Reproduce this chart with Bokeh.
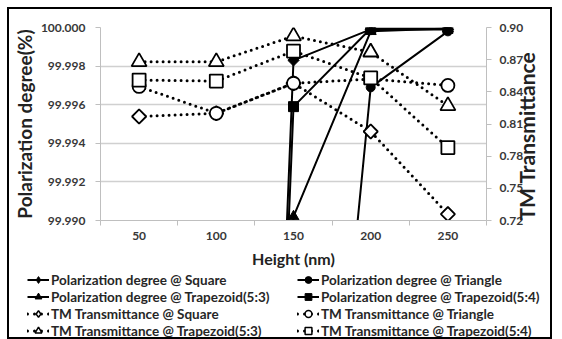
import math
from bokeh.plotting import figure
from bokeh.models import (Range1d, LinearAxis, FixedTicker, Legend, LegendItem,
                          NumeralTickFormatter)
from bokeh.embed import file_html
from bokeh.resources import INLINE

# ---------------- data ----------------
heights = [50, 100, 150, 200, 250]
height_labels = ["50", "100", "150", "200", "250"]

# Polarization degree (%) - left axis
pol_square = [99.60, 99.90, 99.9983, 99.9999, 99.9999]
pol_triangle = [99.40, 99.80, 99.956, 99.9969, 99.9998]
pol_trap53 = [99.50, 99.88, 99.9902, 99.9998, 99.99995]
pol_trap54 = [99.55, 99.90, 99.9959, 99.99995, 99.99995]

# TM Transmittance - right axis
tm_square = [0.817, 0.820, 0.848, 0.803, 0.726]
tm_triangle = [0.845, 0.820, 0.848, 0.852, 0.846]
tm_trap53 = [0.868, 0.868, 0.892, 0.877, 0.827]
tm_trap54 = [0.851, 0.850, 0.878, 0.853, 0.788]

left_ticks = [99.990, 99.992, 99.994, 99.996, 99.998, 100.000]
right_ticks = [0.72, 0.75, 0.78, 0.81, 0.84, 0.87, 0.90]
boundaries = [25, 75, 125, 175, 225, 275]

FONT = "Lato"
TICK_COLOR = "#383838"
GRID = "#d0d0d0"

p = figure(width=545, height=261, output_backend="svg", toolbar_location=None,
           x_range=Range1d(25, 275), y_range=Range1d(99.990, 100.000),
           min_border_left=83, min_border_right=57, min_border_top=18,
           min_border_bottom=45, background_fill_color="white",
           border_fill_color="white", margin=(7, 0, 0, 7),
           styles={"border": "2px solid black", "border-bottom": "none"})
p.outline_line_color = None
p.extra_y_ranges = {"tm": Range1d(0.72, 0.90)}

# grid
p.xgrid.visible = False
p.ygrid.ticker = FixedTicker(ticks=left_ticks)
p.ygrid.grid_line_color = GRID
p.ygrid.grid_line_width = 1.5

# x axis
xa = p.xaxis[0]
xa.ticker = FixedTicker(ticks=heights, minor_ticks=boundaries)
xa.major_label_overrides = {h: s for h, s in zip(heights, height_labels)}
xa.major_tick_line_color = None
xa.minor_tick_in = 0
xa.minor_tick_out = 5
xa.minor_tick_line_color = "#bfbfbf"
xa.axis_line_color = "#bfbfbf"
xa.major_label_standoff = 5
xa.major_label_text_font = FONT
xa.major_label_text_font_style = "bold"
xa.major_label_text_font_size = "12px"
xa.major_label_text_color = TICK_COLOR
xa.axis_label = "Height (nm)"
xa.axis_label_text_font = FONT
xa.axis_label_text_font_style = "bold"
xa.axis_label_text_font_size = "16px"
xa.axis_label_text_color = "#222222"
xa.axis_label_standoff = 6

# left axis
ya = p.yaxis[0]
ya.ticker = FixedTicker(ticks=left_ticks)
ya.formatter = NumeralTickFormatter(format="0.000")
ya.major_tick_in = 0
ya.major_tick_out = 5
ya.major_tick_line_color = "#bfbfbf"
ya.minor_tick_line_color = None
ya.axis_line_color = "#bfbfbf"
ya.major_label_standoff = 10
ya.major_label_text_font = FONT
ya.major_label_text_font_style = "bold"
ya.major_label_text_font_size = "12px"
ya.major_label_text_color = TICK_COLOR
ya.axis_label = "Polarization degree(%)"
ya.axis_label_text_font = FONT
ya.axis_label_text_font_style = "bold"
ya.axis_label_text_font_size = "19px"
ya.axis_label_text_color = "#222222"
ya.axis_label_standoff = 2

# right axis
ra = LinearAxis(y_range_name="tm", ticker=FixedTicker(ticks=right_ticks),
                formatter=NumeralTickFormatter(format="0.00"))
ra.major_tick_in = 0
ra.major_tick_out = 5
ra.major_tick_line_color = "#bfbfbf"
ra.minor_tick_line_color = None
ra.axis_line_color = "#bfbfbf"
ra.major_label_standoff = 8
ra.major_label_text_font = FONT
ra.major_label_text_font_style = "bold"
ra.major_label_text_font_size = "12px"
ra.major_label_text_color = TICK_COLOR
ra.axis_label = "TM Transmittance"
ra.axis_label_text_font = FONT
ra.axis_label_text_font_style = "bold"
ra.axis_label_text_font_size = "21px"
ra.axis_label_text_color = "#222222"
ra.axis_label_standoff = 0
props = ra.properties()
if "axis_label_orientation" in props:
    ra.axis_label_orientation = math.pi / 2
if "axis_label_align" in props:
    ra.axis_label_align = "start"
p.add_layout(ra, "right")

# ---------------- legend figure ----------------
lf = figure(width=545, height=71, output_backend="svg", toolbar_location=None,
            x_range=Range1d(0, 1), y_range=Range1d(0, 1),
            x_axis_location=None, y_axis_location=None,
            min_border=0, min_border_left=0, min_border_right=0,
            min_border_top=0, min_border_bottom=0,
            background_fill_color="white", border_fill_color="white",
            margin=(0, 0, 0, 7),
            styles={"border": "2px solid black", "border-top": "none"})
lf.outline_line_color = None
lf.grid.visible = False

# ---------------- polarization series ----------------
pol_specs = [
    ("Polarization degree @ Square", pol_square, "square", 8, math.pi / 4, "diamond"),
    ("Polarization degree @ Triangle", pol_triangle, "circle", 9, 0, "circle"),
    ("Polarization degree @ Trapezoid(5:3)", pol_trap53, "triangle", 11, 0, "triangle"),
    ("Polarization degree @ Trapezoid(5:4)", pol_trap54, "square", 10, 0, "square"),
]
legend_items = {}
for label, ys, marker, size, ang, lmarker in pol_specs:
    p.line(heights, ys, line_color="black", line_width=2)
    p.scatter(heights, ys, marker=marker, size=size, angle=ang,
              fill_color="black", line_color="black")
    lln = lf.line([-10, -9], [-10, -9], line_color="black", line_width=2)
    lsc = lf.scatter([-10], [-10], marker=lmarker, size=8,
                     fill_color="black", line_color="black")
    legend_items[label] = [lln, lsc]

# ---------------- TM series ----------------
tm_specs = [
    ("TM Transmittance @ Square", tm_square, "square", 10, math.pi / 4, "diamond"),
    ("TM Transmittance @ Triangle", tm_triangle, "circle", 13, 0, "circle"),
    ("TM Transmittance @ Trapezoid(5:3)", tm_trap53, "triangle", 15, 0, "triangle"),
    ("TM Transmittance @ Trapezoid(5:4)", tm_trap54, "square", 13, 0, "square"),
]
for label, ys, marker, size, ang, lmarker in tm_specs:
    p.line(heights, ys, y_range_name="tm", line_color="black", line_width=3,
           line_dash="0 6", line_cap="round")
    p.scatter(heights, ys, y_range_name="tm", marker=marker, size=size, angle=ang,
              fill_color="white", line_color="black", line_width=1.8)
    lln = lf.line([-10, -9], [-10, -9], line_color="black", line_width=3,
                  line_dash="0 7", line_cap="round")
    lsc = lf.scatter([-10], [-10], marker=lmarker, size=8,
                     fill_color="white", line_color="black", line_width=1.5)
    legend_items[label] = [lln, lsc]

order = [
    "Polarization degree @ Square", "Polarization degree @ Triangle",
    "Polarization degree @ Trapezoid(5:3)", "Polarization degree @ Trapezoid(5:4)",
    "TM Transmittance @ Square", "TM Transmittance @ Triangle",
    "TM Transmittance @ Trapezoid(5:3)", "TM Transmittance @ Trapezoid(5:4)",
]
legend = Legend(items=[LegendItem(label=k, renderers=legend_items[k]) for k in order],
                location=(18, 0), orientation="horizontal", ncols=2,
                glyph_width=22, glyph_height=17, label_width=246, label_height=17,
                label_standoff=2, spacing=0, padding=0, margin=0,
                border_line_color=None, background_fill_alpha=0,
                label_text_font=FONT, label_text_font_style="bold",
                label_text_font_size="13.5px", label_text_color="#262626")
lf.add_layout(legend, "center")

open("out.html", "w").write(file_html([p, lf], INLINE))
